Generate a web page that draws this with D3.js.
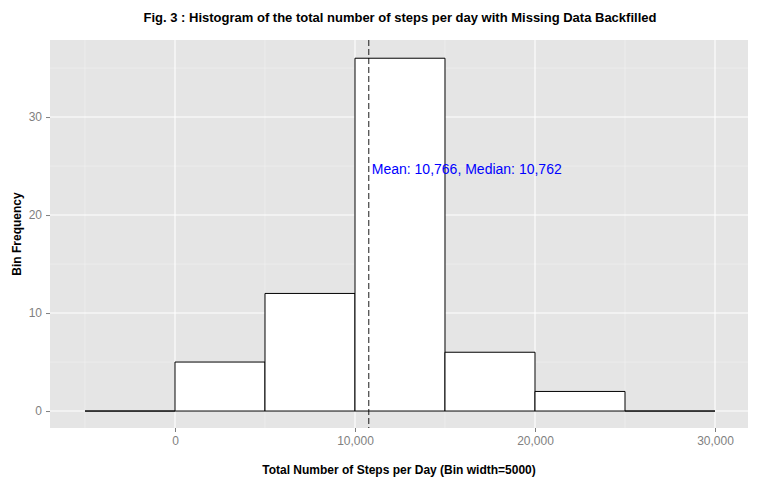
<!DOCTYPE html>
<html><head><meta charset="utf-8">
<script src="https://cdn.jsdelivr.net/npm/d3@7"></script>
<style>body{margin:0;background:#fff;font-family:"Liberation Sans",Arial,sans-serif}</style>
</head><body>
<svg id="chart" width="768" height="480"></svg>
<script>
// bins of 5000 steps, starting edges
var binStarts = [-5000, 0, 5000, 10000, 15000, 20000, 25000];
var binCounts = [0, 5, 12, 36, 6, 2, 0];
var binWidth = 5000;
var meanSteps = 10766, medianSteps = 10762;
var xTicks = [0, 10000, 20000, 30000];
var yTicks = [0, 10, 20, 30];

var svg = d3.select("#chart");
var margin = { top: 40, right: 20, bottom: 52, left: 50 },
    width = 768 - margin.left - margin.right,
    height = 480 - margin.top - margin.bottom;

var x = d3.scaleLinear().domain([-6944, 31833]).range([0, width]);
var y = d3.scaleLinear().domain([-1.73, 37.86]).range([height, 0]);

var g = svg.append("g").attr("transform", "translate(" + margin.left + "," + margin.top + ")");

g.append("rect").attr("width", width).attr("height", height).attr("fill", "#e5e5e5");

// minor grid
var xMinor = [-5000, 5000, 15000, 25000], yMinor = [5, 15, 25, 35];
g.selectAll(".xm").data(xMinor).enter().append("line")
    .attr("x1", d => x(d)).attr("x2", d => x(d)).attr("y1", 0).attr("y2", height)
    .attr("stroke", "#f2f2f2").attr("stroke-width", 0.6);
g.selectAll(".ym").data(yMinor).enter().append("line")
    .attr("y1", d => y(d)).attr("y2", d => y(d)).attr("x1", 0).attr("x2", width)
    .attr("stroke", "#f2f2f2").attr("stroke-width", 0.6);
// major grid
g.selectAll(".xg").data(xTicks).enter().append("line")
    .attr("x1", d => x(d)).attr("x2", d => x(d)).attr("y1", 0).attr("y2", height)
    .attr("stroke", "#fff").attr("stroke-width", 1.1);
g.selectAll(".yg").data(yTicks).enter().append("line")
    .attr("y1", d => y(d)).attr("y2", d => y(d)).attr("x1", 0).attr("x2", width)
    .attr("stroke", "#fff").attr("stroke-width", 1.1);

// bars (as paths so empty bins still show a flat line)
g.selectAll(".bar").data(binStarts).enter().append("path")
    .attr("d", function (d, i) {
        var x0 = x(d), x1 = x(d + binWidth), y0 = y(0), y1 = y(binCounts[i]);
        return "M" + x0 + "," + y0 + "L" + x0 + "," + y1 + "L" + x1 + "," + y1 + "L" + x1 + "," + y0 + "Z";
    })
    .attr("fill", "#fff").attr("stroke", "#000").attr("stroke-width", 1);

// mean line
g.append("line").attr("x1", x(meanSteps)).attr("x2", x(meanSteps))
    .attr("y1", 0).attr("y2", height)
    .attr("stroke", "#000").attr("stroke-dasharray", "6,3").attr("stroke-width", 0.9);
g.append("text").attr("x", x(meanSteps) + 3).attr("y", y(24.7))
    .attr("dy", "0.35em").attr("fill", "#0000ff").style("font-size", "14px")
    .text("Mean: " + d3.format(",")(meanSteps) + ", Median: " + d3.format(",")(medianSteps));

// axes
var xAxis = g.append("g").attr("transform", "translate(0," + height + ")")
    .call(d3.axisBottom(x).tickValues(xTicks).tickFormat(d3.format(",")).tickSize(4).tickPadding(4));
var yAxis = g.append("g")
    .call(d3.axisLeft(y).tickValues(yTicks).tickSize(4).tickPadding(4));
[xAxis, yAxis].forEach(function (a) {
    a.select(".domain").remove();
    a.selectAll("line").attr("stroke", "#7f7f7f");
    a.selectAll("text").attr("fill", "#7f7f7f").style("font-size", "12px")
        .style("font-family", "Liberation Sans, Arial, sans-serif");
});

svg.append("text").attr("x", 400).attr("y", 22).attr("text-anchor", "middle")
    .style("font-size", "13px").style("font-weight", "bold")
    .text("Fig. 3 : Histogram of the total number of steps per day with Missing Data Backfilled");
svg.append("text").attr("x", margin.left + width / 2).attr("y", 474).attr("text-anchor", "middle")
    .style("font-size", "12px").style("font-weight", "bold")
    .text("Total Number of Steps per Day (Bin width=5000)");
svg.append("text").attr("transform", "translate(21," + (margin.top + height / 2) + ") rotate(-90)")
    .attr("text-anchor", "middle").style("font-size", "12px").style("font-weight", "bold")
    .text("Bin Frequency");
</script>
</body></html>
